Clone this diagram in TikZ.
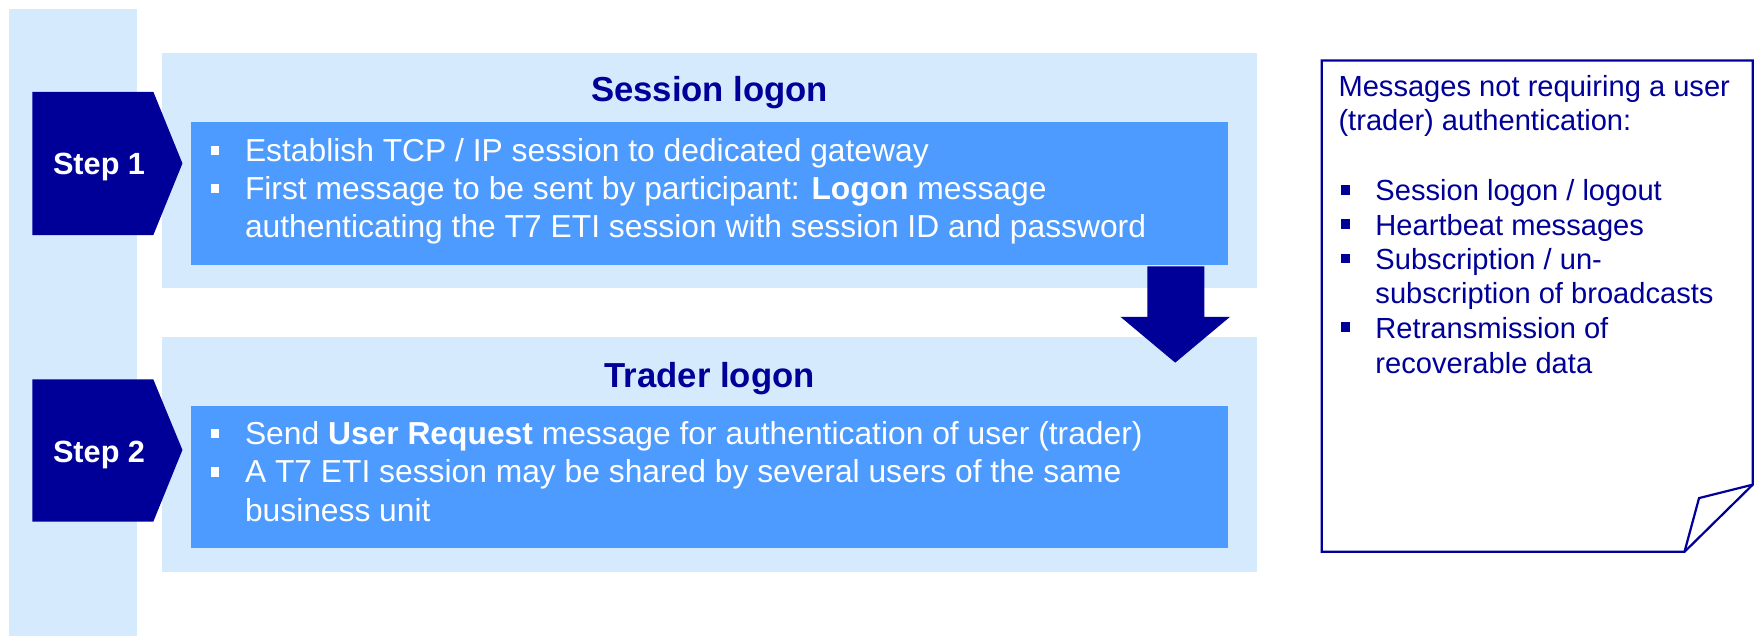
\documentclass[tikz,border=0pt]{standalone}
\usepackage{fontspec}
\setmainfont{Liberation Sans}
\usetikzlibrary{positioning}

\definecolor{paleblue}{RGB}{214,234,253}
\definecolor{midblue}{RGB}{77,155,255}
\definecolor{navy}{RGB}{0,0,153}

\newcommand{\sqmark}{\llap{\rule[2.8pt]{3.7pt}{4.2pt}\hspace{11.6pt}}}

\tikzset{
    boxline/.style  = {anchor = base west, inner sep = 0, text = white,
                       font = \fontsize{14.2}{17}\selectfont},
    noteline/.style = {anchor = base west, inner sep = 0, text = navy,
                       font = \fontsize{13}{15}\selectfont},
    boxtitle/.style = {anchor = base, inner sep = 0, text = navy,
                       font = \fontsize{15.5}{18}\selectfont\bfseries},
    steplabel/.style = {anchor = base, inner sep = 0, text = white,
                       font = \fontsize{13.7}{16}\selectfont\bfseries},
}

\begin{document}
\begin{tikzpicture}[x = 0.5pt, y = -0.5pt]
    \useasboundingbox (0,0) rectangle (1568,568);

    % panels
    \path [fill = paleblue] (8,8) rectangle (122,568);
    \path [fill = paleblue] (145,47) rectangle (1123,257);
    \path [fill = paleblue] (145,301) rectangle (1123,511);
    \path [fill = midblue] (171,109) rectangle (1097,237);
    \path [fill = midblue] (171,363) rectangle (1097,490);

    % step chevrons
    \path [fill = navy] (29,82) -- (137,82) -- (163,146) -- (137,210) -- (29,210) -- cycle;
    \path [fill = navy] (29,339) -- (137,339) -- (163,402) -- (137,466) -- (29,466) -- cycle;
    \node [steplabel] (step1) at (88.5,156) {Step 1};
    \node [steplabel] (step2) at (88.5,413.5) {Step 2};

    % down arrow
    \path [fill = navy] (1025,238) -- (1076,238) -- (1076,283) -- (1099,283)
        -- (1050,324) -- (1001,283) -- (1025,283) -- cycle;

    \node [boxtitle] (sesstitle) at (634,91) {Session logon};
    \node [boxline] (sessa) at (218.5,144) {\sqmark Establish TCP / IP session to dedicated gateway};
    \node [boxline] (sessb) at (218.5,178) {\sqmark First message to be sent by participant: \textbf{Logon} message};
    \node [boxline] (sessc) at (218.5,212) {authenticating the T7 ETI session with session ID and password};

    \node [boxtitle] (tradtitle) at (634,346) {Trader logon};
    \node [boxline] (trada) at (218.5,397) {\sqmark Send \textbf{User Request} message for authentication of user (trader)};
    \node [boxline] (tradb) at (218.5,431.5) {\sqmark A T7 ETI session may be shared by several users of the same};
    \node [boxline] (tradc) at (218.5,466) {business unit};

    % note sheet
    \path [draw = navy, fill = white, line width = 1] (1181,54) -- (1566,54) -- (1566,433)
        -- (1505,493) -- (1181,493) -- cycle;
    \path [draw = navy, line width = 1] (1566,433) -- (1518,445) -- (1505,493);

    \node [noteline] (notea) at (1195.5,86.5) {Messages not requiring a user};
    \node [noteline] (noteb) at (1195.5,117) {(trader) authentication:};
    \node [noteline] (notec) at (1228.5,179.5) {\sqmark Session logon / logout};
    \node [noteline] (noted) at (1228.5,210) {\sqmark Heartbeat messages};
    \node [noteline] (notee) at (1228.5,240.5) {\sqmark Subscription / un-};
    \node [noteline] (notef) at (1228.5,271.5) {subscription of broadcasts};
    \node [noteline] (noteg) at (1228.5,302) {\sqmark Retransmission of};
    \node [noteline] (noteh) at (1228.5,333.5) {recoverable data};
\end{tikzpicture}
\end{document}
